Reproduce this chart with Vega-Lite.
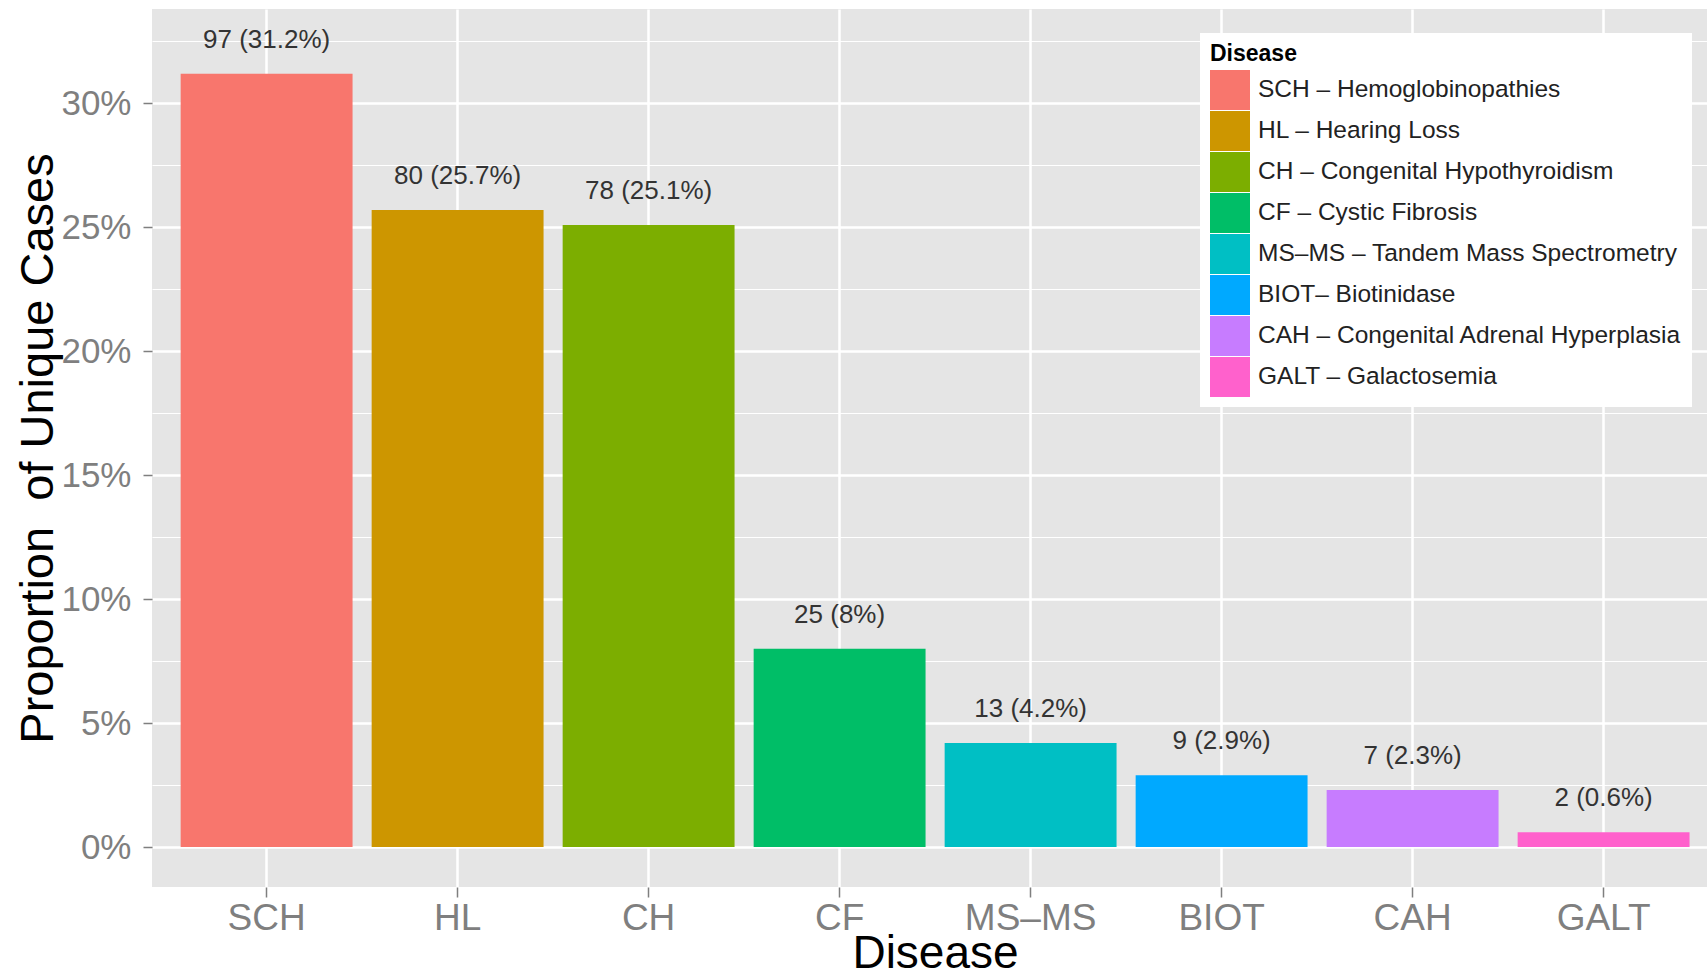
{
  "$schema": "https://vega.github.io/schema/vega-lite/v6.json",
  "autosize": {"type": "none"},
  "padding": {"left": 152, "top": 9, "right": 0, "bottom": 90},
  "width": 1555,
  "height": 878,
  "background": "white",
  "config": {
    "font": "Liberation Sans, Arial, sans-serif",
    "view": {"fill": "#E5E5E5", "stroke": null},
    "legend": {"rowPadding": 1}
  },
  "data": {
    "values": [
      {"Disease": "SCH", "label": "SCH – Hemoglobinopathies", "n": 97, "pct": 31.2, "text": "97 (31.2%)"},
      {"Disease": "HL", "label": "HL – Hearing Loss", "n": 80, "pct": 25.7, "text": "80 (25.7%)"},
      {"Disease": "CH", "label": "CH – Congenital Hypothyroidism", "n": 78, "pct": 25.1, "text": "78 (25.1%)"},
      {"Disease": "CF", "label": "CF – Cystic Fibrosis", "n": 25, "pct": 8.0, "text": "25 (8%)"},
      {"Disease": "MS–MS", "label": "MS–MS – Tandem Mass Spectrometry", "n": 13, "pct": 4.2, "text": "13 (4.2%)"},
      {"Disease": "BIOT", "label": "BIOT– Biotinidase", "n": 9, "pct": 2.9, "text": "9 (2.9%)"},
      {"Disease": "CAH", "label": "CAH – Congenital Adrenal Hyperplasia", "n": 7, "pct": 2.3, "text": "7 (2.3%)"},
      {"Disease": "GALT", "label": "GALT – Galactosemia", "n": 2, "pct": 0.6, "text": "2 (0.6%)"}
    ]
  },
  "encoding": {
    "x": {
      "field": "Disease",
      "type": "nominal",
      "sort": null,
      "scale": {"paddingInner": 0.1, "paddingOuter": 0.1207, "align": 0.6215, "round": false},
      "axis": {
        "title": "Disease",
        "labelAngle": 0,
        "labelFontSize": 37,
        "labelColor": "#7f7f7f",
        "labelPadding": 3,
        "tickColor": "#7f7f7f",
        "tickSize": 10,
        "tickWidth": 1.5,
        "domain": false,
        "grid": true,
        "gridColor": "white",
        "gridWidth": 2.5,
        "titleFontSize": 46,
        "titleFontWeight": "normal",
        "titleColor": "black",
        "titleX": 783,
        "titleY": 80,
        "titleBaseline": "alphabetic"
      }
    }
  },
  "layer": [
    {
      "mark": {"type": "bar"},
      "encoding": {
        "y": {
          "field": "pct",
          "type": "quantitative",
          "scale": {"domain": [-1.61, 33.81], "nice": false, "zero": false},
          "axis": {
            "orient": "left",
            "values": [0, 5, 10, 15, 20, 25, 30],
            "labelExpr": "datum.value + '%'",
            "labelFontSize": 35,
            "labelColor": "#7f7f7f",
            "labelPadding": 12,
            "tickColor": "#7f7f7f",
            "tickSize": 9,
            "tickWidth": 1.5,
            "domain": false,
            "grid": true,
            "gridColor": "white",
            "gridWidth": 2.5,
            "title": "Proportion\u00a0 of Unique Cases",
            "titleFontSize": 47,
            "titleFontWeight": "normal",
            "titleColor": "black",
            "titleX": -100,
            "titleBaseline": "alphabetic"
          }
        },
        "color": {
          "field": "label",
          "type": "nominal",
          "scale": {
            "domain": ["SCH – Hemoglobinopathies", "HL – Hearing Loss", "CH – Congenital Hypothyroidism", "CF – Cystic Fibrosis", "MS–MS – Tandem Mass Spectrometry", "BIOT– Biotinidase", "CAH – Congenital Adrenal Hyperplasia", "GALT – Galactosemia"],
            "range": ["#F8766D", "#CD9600", "#7CAE00", "#00BE67", "#00BFC4", "#00A9FF", "#C77CFF", "#FF61CC"]
          },
          "legend": {
            "title": "Disease",
            "orient": "none",
            "legendX": 1048,
            "legendY": 24,
            "fillColor": "white",
            "padding": 10,
            "titleFontSize": 23,
            "titleFontWeight": "bold",
            "titleColor": "black",
            "titlePadding": 4,
            "labelFontSize": 24.5,
            "labelColor": "#222222",
            "labelOffset": 8,
            "labelLimit": 1000,
            "symbolType": "square",
            "symbolSize": 1600,
            "symbolStrokeWidth": 0,
            "symbolOpacity": 1,
            "rowPadding": 1
          }
        }
      }
    },
    {
      "mark": {"type": "text", "dy": -34, "baseline": "middle", "fontSize": 26, "color": "#333333"},
      "encoding": {
        "y": {
          "field": "pct",
          "type": "quantitative",
          "scale": {"domain": [-1.61, 33.81], "nice": false, "zero": false},
          "axis": {
            "orient": "left",
            "values": [2.5, 7.5, 12.5, 17.5, 22.5, 27.5, 32.5],
            "grid": true,
            "gridColor": "white",
            "gridWidth": 1.2,
            "labels": false,
            "ticks": false,
            "domain": false,
            "title": null
          }
        },
        "text": {"field": "text", "type": "nominal"}
      }
    }
  ],
  "resolve": {"axis": {"y": "independent"}}
}
